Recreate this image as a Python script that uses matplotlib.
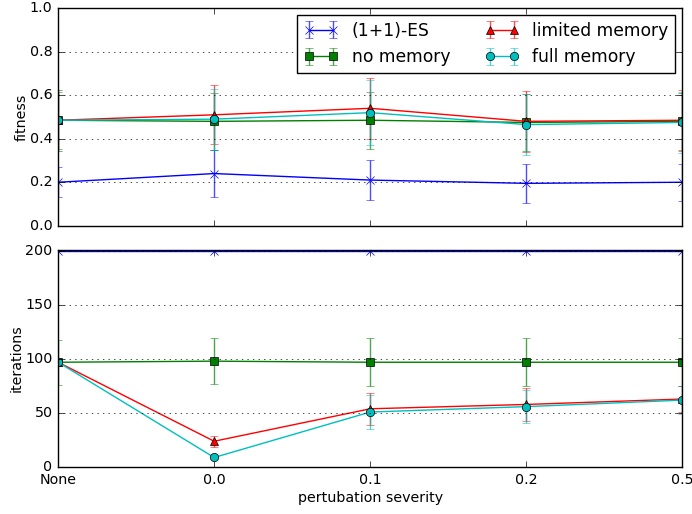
import matplotlib
matplotlib.use("Agg")
import matplotlib.pyplot as plt

plt.style.use("classic")
plt.rcParams["font.size"] = 10.3

# x categories
severity = ["None", "0.0", "0.1", "0.2", "0.5"]

# fitness (mean, std)
fit_es = [0.20, 0.24, 0.21, 0.195, 0.20]
fit_es_err = [0.07, 0.11, 0.09, 0.09, 0.085]
fit_none = [0.485, 0.48, 0.485, 0.475, 0.48]
fit_none_err = [0.13, 0.13, 0.13, 0.13, 0.13]
fit_lim = [0.485, 0.51, 0.54, 0.48, 0.485]
fit_lim_err = [0.14, 0.135, 0.14, 0.14, 0.14]
fit_full = [0.485, 0.49, 0.52, 0.465, 0.475]
fit_full_err = [0.14, 0.14, 0.15, 0.14, 0.14]

# iterations (mean, std)
it_es = [200, 200, 200, 200, 200]
it_es_err = [0, 0, 0, 0, 0]
it_none = [97, 98, 97, 97, 97]
it_none_err = [21, 21, 22, 22, 22]
it_lim = [97, 24, 54, 58, 63]
it_lim_err = [1, 5, 15, 15, 12]
it_full = [97, 9, 51, 56, 62]
it_full_err = [1, 1, 16, 15, 13]

x = list(range(len(severity)))

fig, (ax1, ax2) = plt.subplots(2, 1, sharex=True, figsize=(6.92, 5.14), dpi=100)
fig.patch.set_facecolor("white")

series = [
    ("(1+1)-ES", "b", "x", fit_es, fit_es_err, it_es, it_es_err),
    ("no memory", "g", "s", fit_none, fit_none_err, it_none, it_none_err),
    ("limited memory", "r", "^", fit_lim, fit_lim_err, it_lim, it_lim_err),
    ("full memory", "c", "o", fit_full, fit_full_err, it_full, it_full_err),
]

for label, col, mk, fy, fe, iy, ie in series:
    for ax, yy, ee in ((ax1, fy, fe), (ax2, iy, ie)):
        line, caps, bars = ax.errorbar(x, yy, yerr=ee, color=col, marker=mk,
                                       label=label, capsize=3)
        for c in caps:
            c.set_alpha(0.7)
        for b in bars:
            b.set_alpha(0.7)

ax1.set_ylim(0, 1.0)
ax1.set_yticks([0.0, 0.2, 0.4, 0.6, 0.8, 1.0])
ax1.set_ylabel("fitness", labelpad=1)
ax1.grid(True, axis="y")
ax1.legend(loc="upper right", ncol=2, numpoints=2, handlelength=2.0,
           fontsize=12.3, borderaxespad=0.4, columnspacing=2.0)

ax2.set_ylim(0, 201)
ax2.set_yticks([0, 50, 100, 150, 200])
ax2.set_ylabel("iterations", labelpad=1)
ax2.grid(True, axis="y")
ax2.set_xlim(0, 4)
ax2.set_xticks(x)
ax2.set_xticklabels(severity)
ax2.set_xlabel("pertubation severity", labelpad=3)

plt.subplots_adjust(left=0.084, right=0.986, top=0.984, bottom=0.091, hspace=0.11)
plt.savefig("out.png", dpi=100)
